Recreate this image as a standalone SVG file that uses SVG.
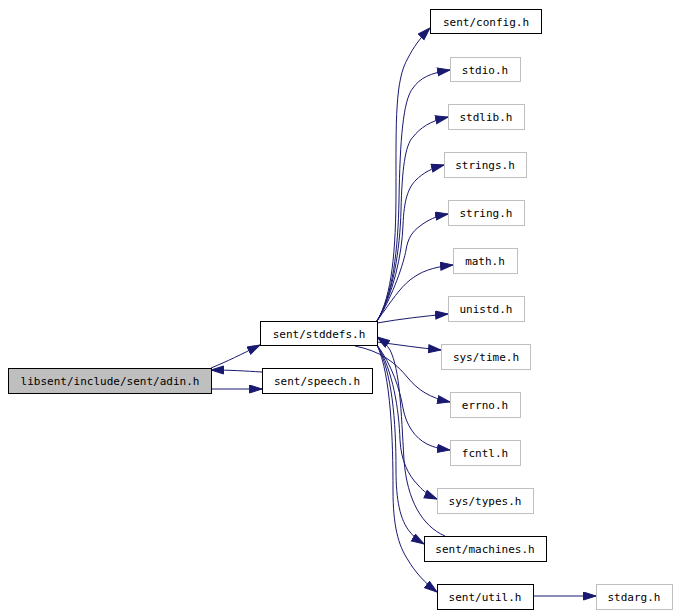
<svg xmlns="http://www.w3.org/2000/svg" width="679" height="615" viewBox="0 0 679 615">
<style>
.n{fill:#ffffff;stroke:#000000;stroke-width:1}
.s{fill:#ffffff;stroke:#bfbfbf;stroke-width:1}
.g{fill:#bfbfbf;stroke:#000000;stroke-width:1}
text{font-family:"DejaVu Sans Mono","Liberation Mono",monospace;font-size:11px;fill:#000000;text-anchor:middle}
.e{fill:none;stroke:#191970;stroke-width:1;marker-end:url(#a)}
</style>
<defs>
<marker id="a" markerUnits="userSpaceOnUse" markerWidth="14" markerHeight="10" refX="13" refY="4.5" orient="auto">
<path d="M0.5,0.5 L13,4.5 L0.5,8.5 z" fill="#191970" stroke="#191970" stroke-width="1"/>
</marker>
</defs>
<rect width="679" height="615" fill="#ffffff"/>
<g id="connectors">
<path class="e" d="M211,368 C228,361 240,355 260,345"/>
<path class="e" d="M262,372 C245,371 230,370 211,370"/>
<path class="e" d="M211,389 L262,389"/>
<path class="e" d="M377,321 C392,296 396,250 396,190 C396,120 395,80 408,58 C413,48 420,38 430,28"/>
<path class="e" d="M377,321 C393,295 398,250 399,200 C400,140 403,100 413,88 C420,78 430,73 450,70"/>
<path class="e" d="M377,321 C393,295 400,250 401,210 C402,170 405,145 413,137 C420,128 430,121 448,117"/>
<path class="e" d="M377,321 C393,295 402,255 403,225 C404,200 408,188 416,180 C423,173 432,168 444,165"/>
<path class="e" d="M377,321 C393,296 404,262 406,250 C408,238 412,232 420,226 C428,220 436,216 448,214"/>
<path class="e" d="M377,321 C392,300 400,288 410,280 C420,272 432,267 453,265"/>
<path class="e" d="M377,323 C400,319 425,316 448,314"/>
<path class="e" d="M377,342 C400,345 420,348 441,350"/>
<path class="e" d="M445,536 C422,526 407,500 404,460 C401,410 400,370 390,350 C387,345 383,341 377,337"/>
<path class="e" d="M355,346 C380,351 395,362 408,378 C418,390 430,398 450,402"/>
<path class="e" d="M377,345 C392,365 400,390 403,408 C406,425 415,438 427,444 C435,448 442,449 450,450"/>
<path class="e" d="M377,345 C393,370 399,410 400,440 C401,460 408,475 418,485 C424,492 430,496 437,499"/>
<path class="e" d="M377,345 C392,372 396,420 396,470 C396,500 400,520 410,532 C415,538 419,541 424,544"/>
<path class="e" d="M377,345 C391,375 393,440 393,490 C393,525 398,545 408,560 C415,572 425,583 437,592"/>
<path class="e" d="M533,596 L596,596"/>
</g>
<g id="adin"><rect class="g" x="8.5" y="368.5" width="203" height="25"/><text x="110" y="385">libsent/include/sent/adin.h</text></g>
<g id="stddefs"><rect class="n" x="260.5" y="321.5" width="117" height="24"/><text x="319" y="338">sent/stddefs.h</text></g>
<g id="speech"><rect class="n" x="262.5" y="368.5" width="110" height="25"/><text x="317" y="385">sent/speech.h</text></g>
<g id="config"><rect class="n" x="430.5" y="9.5" width="111" height="24"/><text x="486" y="26">sent/config.h</text></g>
<g id="stdio"><rect class="s" x="450.5" y="57.5" width="70" height="24"/><text x="485" y="74">stdio.h</text></g>
<g id="stdlib"><rect class="s" x="448.5" y="104.5" width="76" height="25"/><text x="486" y="121">stdlib.h</text></g>
<g id="strings"><rect class="s" x="444.5" y="152.5" width="82" height="25"/><text x="485" y="169">strings.h</text></g>
<g id="string"><rect class="s" x="448.5" y="200.5" width="76" height="25"/><text x="486" y="217">string.h</text></g>
<g id="math"><rect class="s" x="453.5" y="248.5" width="64" height="25"/><text x="485" y="265">math.h</text></g>
<g id="unistd"><rect class="s" x="448.5" y="296.5" width="76" height="25"/><text x="486" y="313">unistd.h</text></g>
<g id="systime"><rect class="s" x="441.5" y="344.5" width="89" height="25"/><text x="486" y="361">sys/time.h</text></g>
<g id="errno"><rect class="s" x="450.5" y="392.5" width="70" height="25"/><text x="485" y="409">errno.h</text></g>
<g id="fcntl"><rect class="s" x="450.5" y="440.5" width="70" height="25"/><text x="485" y="457">fcntl.h</text></g>
<g id="systypes"><rect class="s" x="437.5" y="488.5" width="96" height="25"/><text x="485" y="505">sys/types.h</text></g>
<g id="machines"><rect class="n" x="424.5" y="536.5" width="122" height="25"/><text x="485" y="553">sent/machines.h</text></g>
<g id="util"><rect class="n" x="437.5" y="584.5" width="96" height="25"/><text x="485" y="601">sent/util.h</text></g>
<g id="stdarg"><rect class="s" x="596.5" y="584.5" width="76" height="25"/><text x="634" y="601">stdarg.h</text></g>
</svg>
